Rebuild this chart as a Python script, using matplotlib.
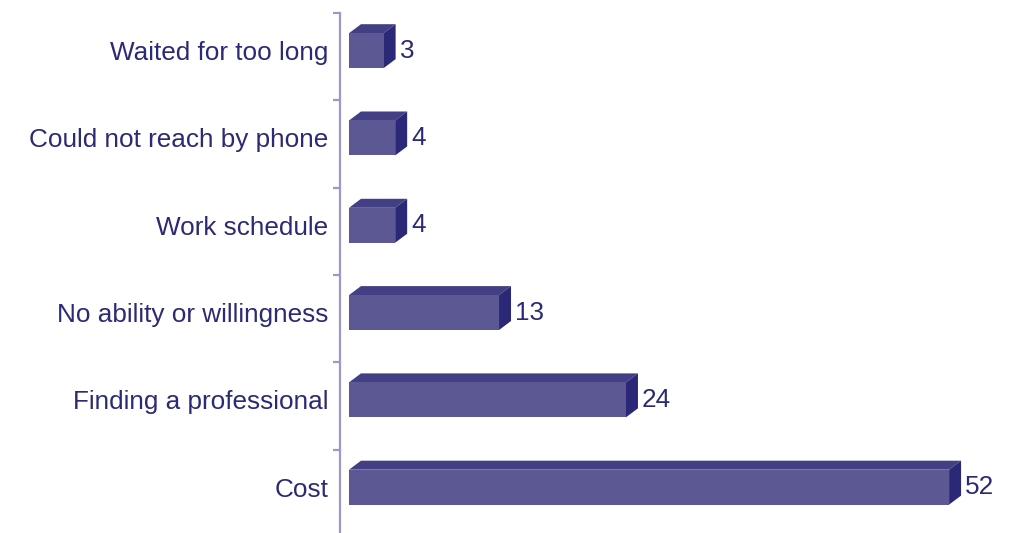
import numpy as np
import matplotlib.pyplot as plt
from matplotlib.patches import Polygon
from matplotlib.ticker import FixedLocator

# Reasons for not getting help, number of respondents
reasons = [
    "Waited for too long",
    "Could not reach by phone",
    "Work schedule",
    "No ability or willingness",
    "Finding a professional",
    "Cost",
]
counts = [3, 4, 4, 13, 24, 52]

FRONT = "#5b5893"
TOP = "#433f85"
SIDE = "#2b2877"
TEXT = "#2b2a74"
AXIS = "#9c98c9"
FS = 18.8

plt.rcParams['font.family'] = ['Liberation Sans', 'DejaVu Sans']

W, H, DPI = 1013, 533, 100
fig = plt.figure(figsize=(W / DPI, H / DPI), dpi=DPI)

# axes placed so the wall line sits at x=340 px
ax_left, ax_top = 340, 13
ax = fig.add_axes([ax_left / W, 0, (W - ax_left) / W, (H - ax_top) / H])

px_per_unit = 11.54          # value units -> pixels
px_per_cat = 87.3            # category spacing in pixels
x0 = -9 / px_per_unit
ax.set_xlim(x0, x0 + (W - ax_left) / px_per_unit)
ax.set_ylim(-0.5 + (H - ax_top) / px_per_cat, -0.5)

# 3d depth of each bar, in data units
depth_x = 12 / px_per_unit
depth_y = 9 / px_per_cat
bar_h = 0.4
shift = -6 / px_per_cat

ypos = np.arange(len(reasons)) + shift
ax.barh(ypos, counts, height=bar_h, color=FRONT, zorder=3)

for y, v in zip(ypos, counts):
    top_edge = y - bar_h / 2
    bot_edge = y + bar_h / 2
    top = Polygon([(0, top_edge), (v, top_edge),
                   (v + depth_x, top_edge - depth_y), (depth_x, top_edge - depth_y)],
                  closed=True, facecolor=TOP, edgecolor='none', zorder=2)
    side = Polygon([(v, top_edge), (v + depth_x, top_edge - depth_y),
                    (v + depth_x, bot_edge - depth_y), (v, bot_edge)],
                   closed=True, facecolor=SIDE, edgecolor='none', zorder=2)
    ax.add_patch(top)
    ax.add_patch(side)
    ax.text(v + depth_x + 4 / px_per_unit, y, str(v), va='center', ha='left',
            fontsize=FS, color=TEXT)

for s in ['top', 'right', 'bottom']:
    ax.spines[s].set_visible(False)
ax.spines['left'].set_color(AXIS)
ax.spines['left'].set_linewidth(1.6)
ax.spines['left'].set_position(('data', x0))

ax.set_xticks([])
ax.set_yticks(ypos)
ax.set_yticklabels(reasons, fontsize=FS, color=TEXT)
ax.tick_params(axis='y', which='major', length=0, pad=8.5)
ax.yaxis.set_minor_locator(FixedLocator(np.arange(-0.5, len(reasons), 1.0)))
ax.tick_params(axis='y', which='minor', length=5, width=1.6, color=AXIS, direction='out')

fig.savefig("out.png", dpi=DPI)
